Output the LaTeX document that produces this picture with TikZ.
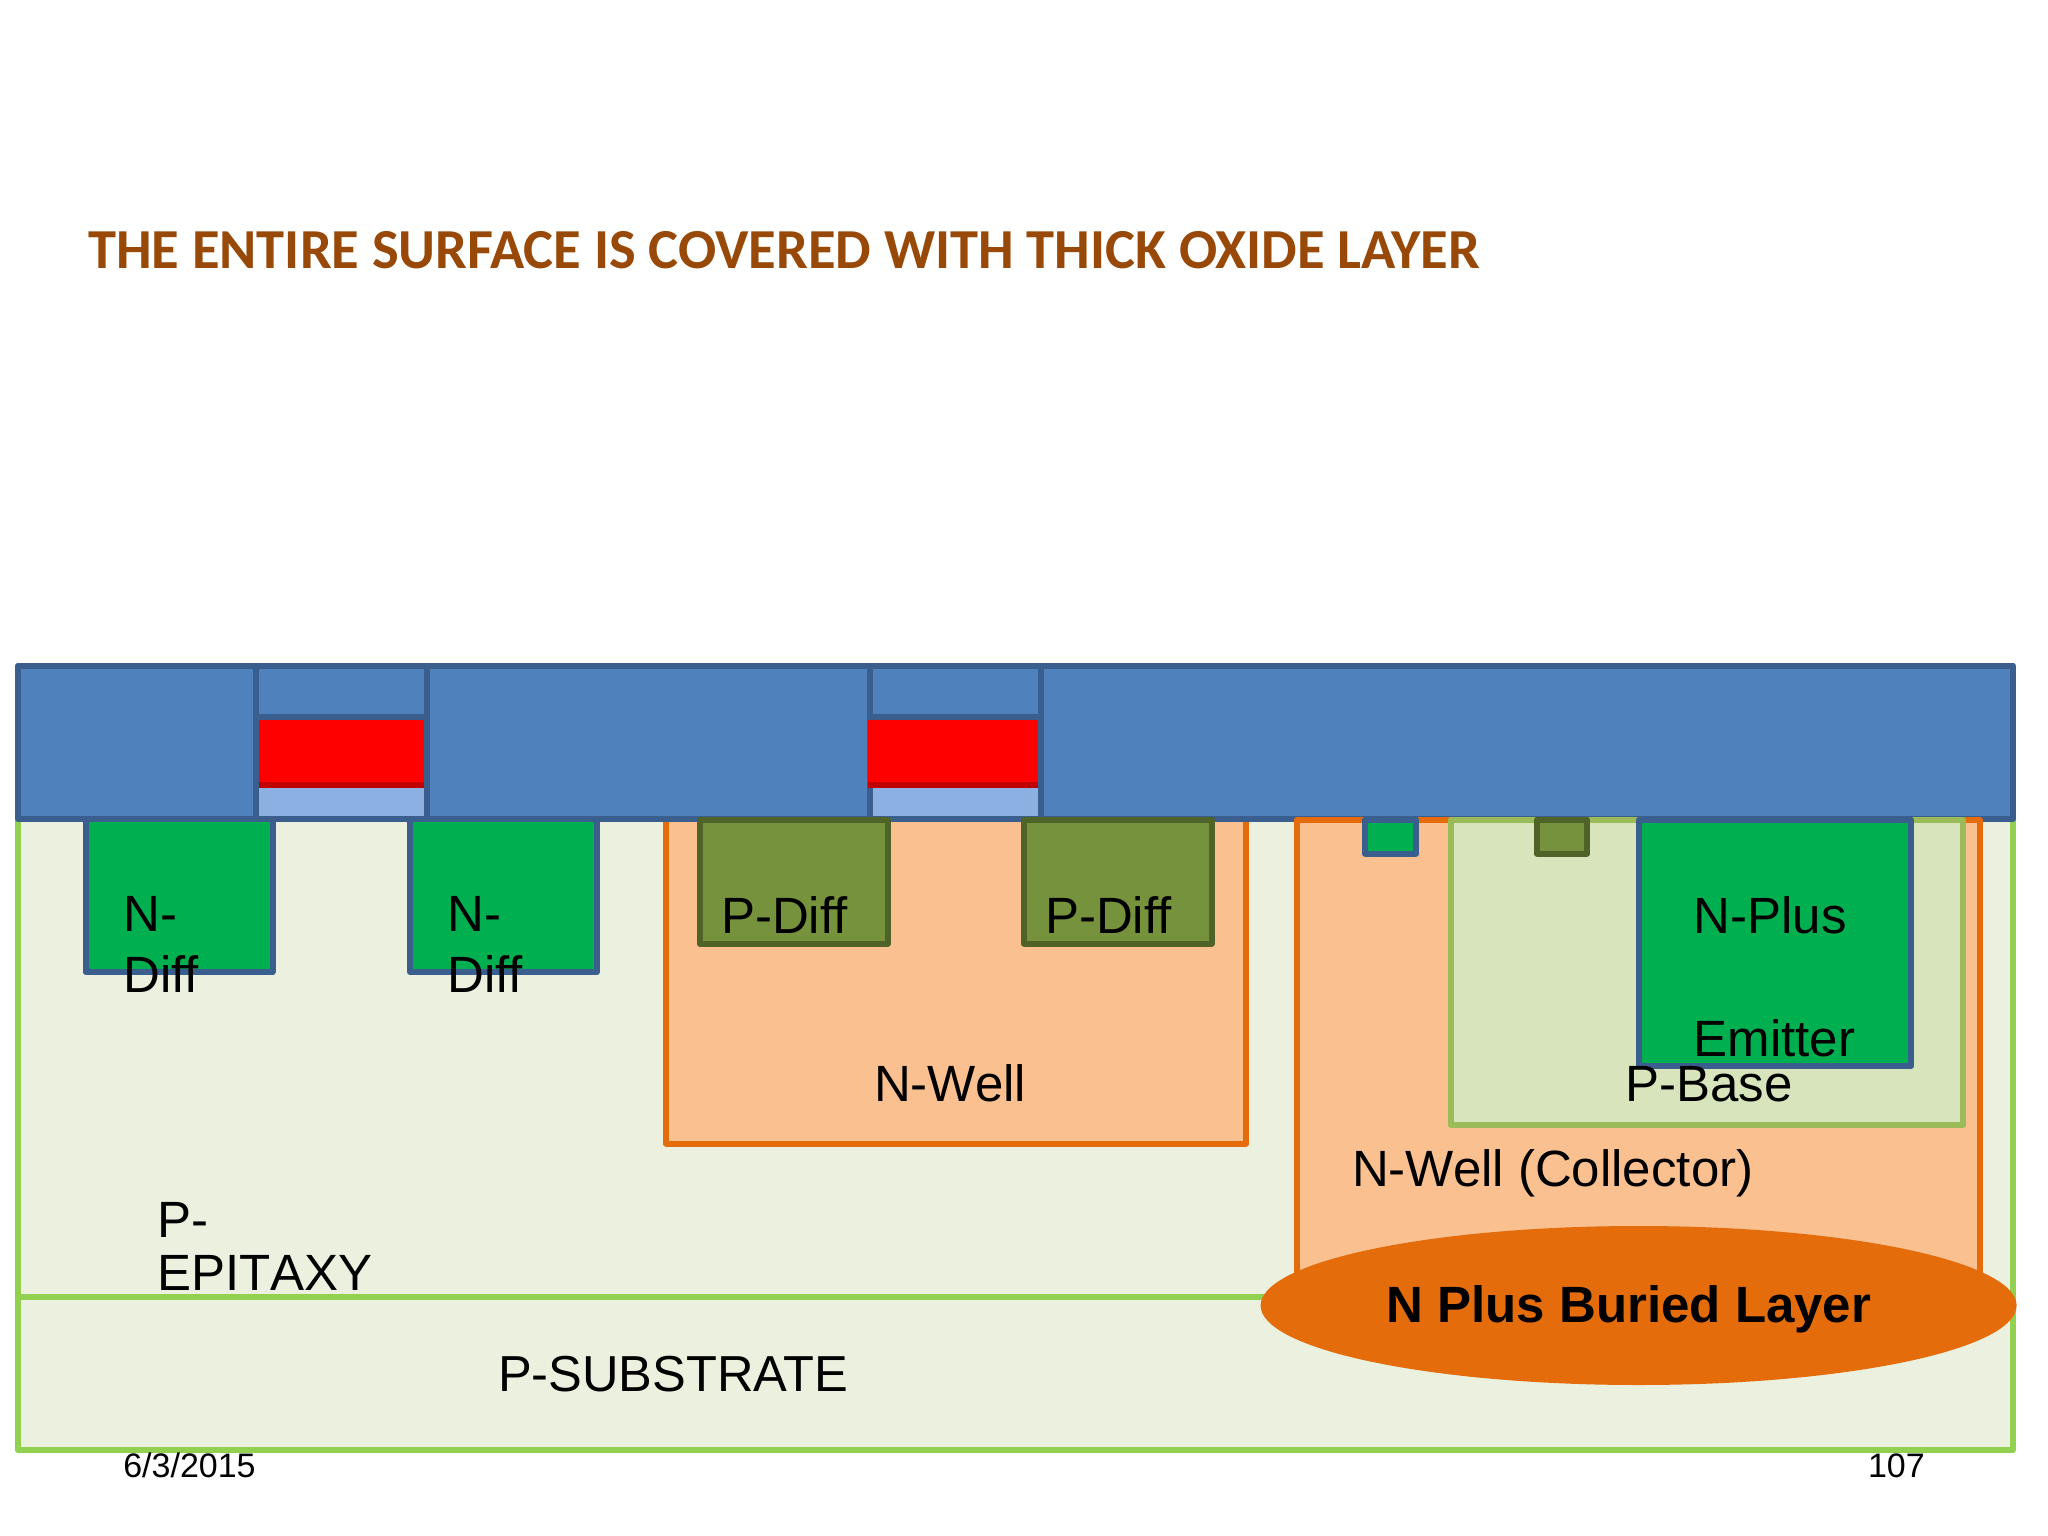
\documentclass[tikz,border=0pt]{standalone}
\usepackage{fontspec}
\setmainfont{Liberation Sans}[Ligatures=CommonOff]
\newfontfamily\titlefont{Carlito}[Ligatures=CommonOff]
\usetikzlibrary{shapes.geometric}
\definecolor{oxfill}{HTML}{4F81BD}
\definecolor{oxline}{HTML}{3A5F8E}
\definecolor{gatefill}{HTML}{FF0000}
\definecolor{gateline}{HTML}{C00000}
\definecolor{thinox}{HTML}{8DB0E2}
\definecolor{subfill}{HTML}{EBF1DE}
\definecolor{subline}{HTML}{92D050}
\definecolor{wellfill}{HTML}{FAC090}
\definecolor{wellline}{HTML}{E46C0A}
\definecolor{ndfill}{HTML}{00B050}
\definecolor{pdfill}{HTML}{76923C}
\definecolor{pdline}{HTML}{4F6228}
\definecolor{basefill}{HTML}{D7E4BC}
\definecolor{baseline}{HTML}{9BBB59}
\definecolor{titlecol}{HTML}{984807}
\tikzset{
  x=1pt,y=-1pt,
  layer/.style={line width=6pt,line join=round},
  substr/.style={layer,fill=subfill,draw=subline},
  oxide/.style={layer,fill=oxfill,draw=oxline},
  ndiff/.style={layer,fill=ndfill,draw=oxline},
  pdiff/.style={layer,fill=pdfill,draw=pdline},
  nwell/.style={layer,fill=wellfill,draw=wellline},
  pbase/.style={layer,fill=basefill,draw=baseline},
  lbl/.style={anchor=base west,inner sep=0pt,outer sep=0pt,align=left,font=\fontsize{51}{61}\selectfont},
  foot/.style={anchor=base west,inner sep=0pt,outer sep=0pt,font=\fontsize{34}{40}\selectfont},
}
\begin{document}
\begin{tikzpicture}
\useasboundingbox (0,0) rectangle (2048,1536);
\fill[white] (0,0) rectangle (2048,1536);
% substrate and epitaxy
\draw[substr] (18,1297) rectangle (2013,1450);
\draw[substr] (18,819) rectangle (2013,1297);
% N-well
\draw[nwell] (666,819) rectangle (1246,1143.5);
% oxide
\draw[oxide] (18,665.5) rectangle (2013,819);
\draw[oxline,line width=6pt] (256,665.5) -- (256,819) (427,665.5) -- (427,819)
  (256,716.5) -- (427,716.5)
  (870,665.5) -- (870,819) (1041,665.5) -- (1041,819)
  (870,716.5) -- (1041,716.5);
% gates 1
\fill[gatefill] (259,719.5) rectangle (424,782);
\fill[gateline] (259,782) rectangle (424,788);
\fill[thinox] (259,788) rectangle (424,816);
% gates 2
\fill[gatefill] (867.5,719.5) rectangle (1038,782);
\fill[gateline] (867.5,782) rectangle (1038,788);
\fill[thinox] (873,788) rectangle (1038,816);
% N-diff
\draw[ndiff] (85.5,819) rectangle (272.5,972);
\draw[ndiff] (410,819) rectangle (597,972);
% P-diff
\draw[pdiff] (699.5,819.5) rectangle (887.5,943.5);
\draw[pdiff] (1024,819.5) rectangle (1211.5,943.5);
% collector
\draw[nwell] (1297,819.5) rectangle (1979.5,1305);
\draw[pbase] (1451,819.5) rectangle (1963,1125);
\draw[ndiff] (1365,819.5) rectangle (1416,853.5);
\draw[pdiff] (1537,819.5) rectangle (1587,853.5);
\draw[ndiff] (1639,819.5) rectangle (1911,1066);
% buried layer
\node[ellipse,fill=wellline,draw=none,minimum width=756pt,minimum height=159pt,inner sep=0pt] (buried) at (1638.6,1305.5) {};
% labels
\node[anchor=base west,inner sep=0pt,text=titlecol,font=\titlefont\bfseries\fontsize{56.5}{66}\selectfont] (title) at (88,268) {THE ENTIRE SURFACE IS COVERED WITH THICK OXIDE LAYER};
\node[lbl] (nd1) at (123.5,992) {N-\\Diff};
\node[lbl] (nd2) at (447.5,992) {N-\\Diff};
\node[lbl] (pd1) at (721,933) {P-Diff};
\node[lbl] (pd2) at (1045,933) {P-Diff};
\node[lbl] (nw1) at (874,1101.7) {N-Well};
\node[lbl] (np) at (1693.5,1056) {N-Plus\\[62pt]Emitter};
\node[lbl] (pb) at (1625.3,1101.7) {P-Base};
\node[lbl] (nw2) at (1352,1186.7) {N-Well (Collector)};
\node[lbl,font=\addfontfeature{Kerning=Off}\fontsize{51}{53.4}\selectfont] (epi) at (157.5,1290.7) {P-\\EPITAXY};
\node[lbl,font=\fontsize{50.6}{61}\selectfont] (sub) at (498,1391.7) {P-SUBSTRATE};
\node[anchor=base west,inner sep=0pt,font=\bfseries\fontsize{51}{61}\selectfont] (bl) at (1386.3,1322.7) {N Plus Buried Layer};
\node[foot] (date) at (123.3,1477) {6/3/2015};
\node[foot] (num) at (1868,1477) {107};
\end{tikzpicture}
\end{document}
